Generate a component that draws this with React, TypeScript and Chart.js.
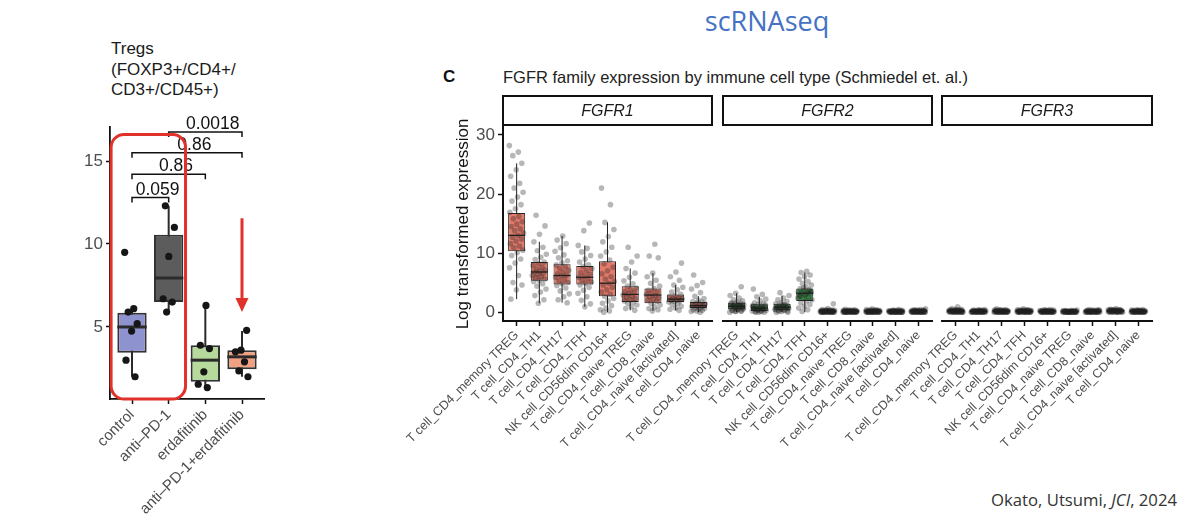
import React, { useEffect, useRef } from 'react';
import { Chart, registerables } from 'chart.js';

Chart.register(...registerables);

const SANS = '"Liberation Sans", Arial, Helvetica, sans-serif';
const SLIDE = '"Open Sans", Lato, sans-serif';

// ---------- Treg flow cytometry panel ----------
const tregGroups = ['control', 'anti–PD-1', 'erdafitinib', 'anti–PD-1+erdafitinib'];
const tregColors = ['#8E92CF', '#5C5C5C', '#B5DA9C', '#F0A182'];
const tregLower = [2.0, 5.9, 1.4, 2.0];
const tregQ1 = [3.45, 6.5, 1.7, 2.45];
const tregMedian = [5.0, 7.95, 3.0, 3.2];
const tregQ3 = [5.85, 10.55, 3.9, 3.6];
const tregUpper = [6.1, 12.3, 6.3, 4.75];
const tregPoints = [
  [9.5, 6.1, 5.9, 5.2, 4.75, 3.0, 2.0],
  [12.3, 11.0, 9.25, 6.7, 6.5, 5.9],
  [6.3, 3.9, 3.7, 2.3, 1.55, 1.35],
  [4.8, 3.6, 3.5, 2.9, 2.35, 2.0],
];
const tregTicks = [5, 10, 15];
// pairwise comparisons: group indices, bracket height, p value
const compA = [0, 0, 0, 1];
const compB = [1, 2, 3, 3];
const compHeight = [12.8, 14.2, 15.5, 16.75];
const compP = ['0.059', '0.86', '0.86', '0.0018'];

// ---------- scRNAseq panel ----------
const cellTypes = [
  'T cell_CD4_memory TREG',
  'T cell_CD4_TH1',
  'T cell_CD4_TH17',
  'T cell_CD4_TFH',
  'NK cell_CD56dim CD16+',
  'T cell_CD4_naive TREG',
  'T cell_CD8_naive',
  'T cell_CD4_naive [activated]',
  'T cell_CD4_naive',
];
const genes = ['FGFR1', 'FGFR2', 'FGFR3'];
const geneColors = ['#E47B6B', '#46AD57', '#6F9CEB'];
const exprTicks = [0, 10, 20, 30];

const fgfr1Lower = [2.2, 1.5, 1.6, 0.9, 0.0, 0.3, 0.2, 0.3, 0.0];
const fgfr1Q1 = [10.3, 5.3, 4.7, 4.7, 2.7, 1.7, 1.5, 1.7, 0.7];
const fgfr1Median = [13.0, 6.8, 6.2, 5.9, 4.9, 3.0, 2.9, 2.2, 1.1];
const fgfr1Q3 = [16.8, 8.5, 8.1, 7.8, 8.6, 4.4, 4.0, 3.0, 1.7];
const fgfr1Upper = [25.2, 11.9, 12.9, 11.3, 15.2, 7.4, 6.6, 4.6, 2.7];
const fgfr1Points = [
  [28.2, 27.1, 26.5, 25.2, 24.1, 23.0, 21.8, 21.0, 20.3, 19.5, 18.8, 18.2, 17.5, 16.9, 16.2, 15.8, 15.3, 14.9, 14.5, 14.1, 13.8, 13.4, 13.0, 12.7, 12.4, 12.0, 11.6, 11.2, 10.9, 10.5, 10.1, 9.6, 9.0, 8.3, 7.5, 6.2, 5.0, 4.6, 3.8, 2.2],
  [16.4, 14.6, 13.2, 11.9, 11.0, 10.4, 9.8, 9.3, 8.9, 8.5, 8.2, 7.9, 7.6, 7.3, 7.1, 6.9, 6.8, 6.6, 6.4, 6.2, 6.0, 5.8, 5.6, 5.4, 5.2, 4.8, 4.4, 3.9, 3.4, 2.8, 2.1, 1.5],
  [12.9, 12.2, 11.6, 10.9, 10.3, 9.7, 9.2, 8.7, 8.3, 8.0, 7.7, 7.4, 7.1, 6.8, 6.5, 6.3, 6.1, 5.9, 5.6, 5.3, 5.0, 4.8, 4.5, 4.1, 3.6, 3.1, 2.6, 2.1, 1.6],
  [15.1, 13.8, 11.3, 10.8, 10.2, 9.6, 9.0, 8.5, 8.0, 7.7, 7.4, 7.0, 6.7, 6.4, 6.1, 5.9, 5.7, 5.4, 5.1, 4.9, 4.6, 4.2, 3.7, 3.2, 2.6, 2.0, 1.4, 0.9],
  [21.0, 18.2, 15.2, 14.0, 12.8, 11.9, 11.0, 10.2, 9.5, 8.8, 8.2, 7.6, 7.0, 6.5, 6.0, 5.6, 5.2, 4.9, 4.6, 4.2, 3.8, 3.4, 3.0, 2.7, 2.3, 1.9, 1.5, 1.1, 0.7, 0.4, 0.2, 0.0],
  [11.0, 9.5, 8.5, 7.4, 6.6, 5.9, 5.3, 4.8, 4.4, 4.1, 3.8, 3.5, 3.3, 3.1, 2.9, 2.7, 2.5, 2.3, 2.1, 1.9, 1.7, 1.5, 1.2, 0.9, 0.6, 0.3],
  [11.5, 9.5, 9.2, 6.6, 6.0, 5.4, 4.9, 4.4, 4.0, 3.7, 3.4, 3.2, 3.0, 2.8, 2.6, 2.4, 2.2, 2.0, 1.8, 1.5, 1.2, 0.9, 0.6, 0.4, 0.2],
  [8.3, 6.8, 6.0, 5.4, 4.6, 4.2, 3.8, 3.4, 3.0, 2.8, 2.6, 2.4, 2.3, 2.2, 2.1, 2.0, 1.9, 1.8, 1.7, 1.5, 1.3, 1.0, 0.7, 0.5, 0.3],
  [6.3, 5.0, 4.5, 3.9, 3.3, 2.7, 2.3, 2.0, 1.8, 1.7, 1.5, 1.4, 1.3, 1.2, 1.1, 1.0, 0.9, 0.8, 0.7, 0.6, 0.5, 0.4, 0.3, 0.2, 0.1, 0.0],
];

const fgfr2Lower = [0, 0, 0, 0, 0, 0, 0, 0, 0];
const fgfr2Q1 = [0.5, 0.2, 0.3, 1.9, 0.05, 0.05, 0.05, 0.05, 0.05];
const fgfr2Median = [1.0, 0.7, 0.85, 3.2, 0.15, 0.15, 0.15, 0.12, 0.15];
const fgfr2Q3 = [1.6, 1.35, 1.4, 4.0, 0.3, 0.3, 0.3, 0.28, 0.3];
const fgfr2Upper = [3.2, 2.6, 2.8, 6.7, 0.6, 0.55, 0.55, 0.5, 0.55];
const fgfr2Points = [
  [4.3, 3.2, 2.8, 2.4, 2.1, 1.9, 1.7, 1.6, 1.5, 1.4, 1.3, 1.2, 1.1, 1.0, 0.9, 0.8, 0.7, 0.6, 0.5, 0.4, 0.3, 0.2, 0.1, 0.0, 1.2, 1.0, 0.8, 0.6, 1.4, 1.1, 0.9, 0.7, 0.5, 0.3, 0.2, 0.1],
  [3.9, 3.0, 2.6, 2.2, 1.9, 1.6, 1.4, 1.3, 1.1, 1.0, 0.9, 0.8, 0.7, 0.6, 0.5, 0.4, 0.3, 0.2, 0.1, 0.0, 0.0, 0.9, 0.7, 0.5, 1.2, 0.8, 0.6, 0.4, 0.3, 0.2, 0.1, 0.0],
  [3.3, 2.8, 2.4, 2.1, 1.8, 1.6, 1.4, 1.3, 1.2, 1.0, 0.9, 0.8, 0.7, 0.6, 0.5, 0.4, 0.3, 0.2, 0.1, 0.0, 1.1, 0.8, 0.6, 1.2, 0.9, 0.7, 0.5, 0.4, 0.3, 0.1, 0.0],
  [6.9, 6.7, 6.3, 6.0, 5.6, 5.2, 4.9, 4.6, 4.3, 4.0, 3.8, 3.6, 3.4, 3.3, 3.2, 3.1, 2.9, 2.7, 2.5, 2.3, 2.1, 1.9, 1.6, 1.3, 1.0, 0.7, 0.4, 0.1, 3.5, 3.0, 2.8, 3.7, 4.1, 2.4],
  [1.4, 0.6, 0.45, 0.4, 0.35, 0.3, 0.3, 0.25, 0.25, 0.2, 0.2, 0.2, 0.15, 0.15, 0.15, 0.1, 0.1, 0.1, 0.1, 0.05, 0.05, 0.05, 0.05, 0.0, 0.0, 0.0, 0.0, 0.0, 0.0, 0.0, 0.3, 0.25, 0.2, 0.2, 0.15, 0.15, 0.1, 0.1, 0.1, 0.05, 0.05, 0.0, 0.0, 0.0, 0.0],
  [0.5, 0.4, 0.35, 0.3, 0.3, 0.25, 0.25, 0.2, 0.2, 0.2, 0.15, 0.15, 0.15, 0.1, 0.1, 0.1, 0.1, 0.05, 0.05, 0.05, 0.0, 0.0, 0.0, 0.0, 0.0, 0.0, 0.0, 0.0, 0.3, 0.25, 0.2, 0.2, 0.15, 0.15, 0.1, 0.1, 0.1, 0.05, 0.05, 0.0, 0.0, 0.0, 0.0],
  [0.55, 0.45, 0.4, 0.35, 0.3, 0.3, 0.25, 0.25, 0.2, 0.2, 0.2, 0.15, 0.15, 0.15, 0.1, 0.1, 0.1, 0.05, 0.05, 0.05, 0.0, 0.0, 0.0, 0.0, 0.0, 0.0, 0.0, 0.0, 0.3, 0.25, 0.2, 0.2, 0.15, 0.15, 0.1, 0.1, 0.1, 0.05, 0.05, 0.0, 0.0, 0.0, 0.0],
  [0.45, 0.35, 0.3, 0.3, 0.25, 0.25, 0.2, 0.2, 0.15, 0.15, 0.15, 0.1, 0.1, 0.1, 0.1, 0.05, 0.05, 0.05, 0.0, 0.0, 0.0, 0.0, 0.0, 0.0, 0.0, 0.0, 0.0, 0.25, 0.2, 0.2, 0.15, 0.15, 0.1, 0.1, 0.1, 0.05, 0.05, 0.0, 0.0, 0.0, 0.0],
  [0.55, 0.45, 0.4, 0.35, 0.3, 0.3, 0.25, 0.25, 0.2, 0.2, 0.2, 0.15, 0.15, 0.15, 0.1, 0.1, 0.1, 0.05, 0.05, 0.05, 0.0, 0.0, 0.0, 0.0, 0.0, 0.0, 0.0, 0.0, 0.3, 0.25, 0.2, 0.2, 0.15, 0.15, 0.1, 0.1, 0.1, 0.05, 0.05, 0.0, 0.0, 0.0, 0.0],
];

const fgfr3Lower = [0, 0, 0, 0, 0, 0, 0, 0, 0];
const fgfr3Q1 = [0.08, 0.04, 0.06, 0.06, 0.04, 0.02, 0.04, 0.08, 0.04];
const fgfr3Median = [0.2, 0.12, 0.18, 0.18, 0.12, 0.08, 0.12, 0.22, 0.12];
const fgfr3Q3 = [0.35, 0.28, 0.32, 0.32, 0.28, 0.22, 0.28, 0.38, 0.28];
const fgfr3Upper = [0.65, 0.5, 0.55, 0.55, 0.5, 0.4, 0.5, 0.65, 0.5];
const fgfr3Points = [
  [0.9, 0.6, 0.5, 0.45, 0.4, 0.35, 0.35, 0.3, 0.3, 0.25, 0.25, 0.2, 0.2, 0.2, 0.15, 0.15, 0.15, 0.1, 0.1, 0.1, 0.05, 0.05, 0.05, 0.0, 0.0, 0.0, 0.0, 0.0, 0.0, 0.35, 0.3, 0.25, 0.25, 0.2, 0.2, 0.15, 0.15, 0.1, 0.1, 0.05, 0.0, 0.0, 0.0],
  [0.45, 0.4, 0.35, 0.3, 0.3, 0.25, 0.25, 0.2, 0.2, 0.15, 0.15, 0.15, 0.1, 0.1, 0.1, 0.1, 0.05, 0.05, 0.05, 0.0, 0.0, 0.0, 0.0, 0.0, 0.0, 0.0, 0.0, 0.3, 0.25, 0.2, 0.2, 0.15, 0.15, 0.1, 0.1, 0.1, 0.05, 0.05, 0.0, 0.0, 0.0],
  [0.55, 0.45, 0.4, 0.35, 0.3, 0.3, 0.25, 0.25, 0.2, 0.2, 0.2, 0.15, 0.15, 0.15, 0.1, 0.1, 0.1, 0.05, 0.05, 0.05, 0.0, 0.0, 0.0, 0.0, 0.0, 0.0, 0.0, 0.0, 0.35, 0.3, 0.25, 0.25, 0.2, 0.2, 0.15, 0.15, 0.1, 0.1, 0.05, 0.0, 0.0, 0.0],
  [0.55, 0.45, 0.4, 0.35, 0.3, 0.3, 0.25, 0.25, 0.2, 0.2, 0.2, 0.15, 0.15, 0.15, 0.1, 0.1, 0.1, 0.05, 0.05, 0.05, 0.0, 0.0, 0.0, 0.0, 0.0, 0.0, 0.0, 0.0, 0.35, 0.3, 0.25, 0.25, 0.2, 0.2, 0.15, 0.15, 0.1, 0.1, 0.05, 0.0, 0.0, 0.0],
  [0.45, 0.4, 0.35, 0.3, 0.3, 0.25, 0.25, 0.2, 0.2, 0.15, 0.15, 0.15, 0.1, 0.1, 0.1, 0.1, 0.05, 0.05, 0.05, 0.0, 0.0, 0.0, 0.0, 0.0, 0.0, 0.0, 0.0, 0.3, 0.25, 0.2, 0.2, 0.15, 0.15, 0.1, 0.1, 0.1, 0.05, 0.05, 0.0, 0.0, 0.0],
  [0.35, 0.3, 0.25, 0.25, 0.2, 0.2, 0.15, 0.15, 0.1, 0.1, 0.1, 0.1, 0.05, 0.05, 0.05, 0.05, 0.0, 0.0, 0.0, 0.0, 0.0, 0.0, 0.0, 0.0, 0.0, 0.0, 0.25, 0.2, 0.2, 0.15, 0.15, 0.1, 0.1, 0.05, 0.05, 0.0, 0.0, 0.0, 0.0],
  [0.45, 0.4, 0.35, 0.3, 0.3, 0.25, 0.25, 0.2, 0.2, 0.15, 0.15, 0.15, 0.1, 0.1, 0.1, 0.1, 0.05, 0.05, 0.05, 0.0, 0.0, 0.0, 0.0, 0.0, 0.0, 0.0, 0.0, 0.3, 0.25, 0.2, 0.2, 0.15, 0.15, 0.1, 0.1, 0.1, 0.05, 0.05, 0.0, 0.0, 0.0],
  [0.6, 0.5, 0.45, 0.4, 0.4, 0.35, 0.35, 0.3, 0.3, 0.25, 0.25, 0.25, 0.2, 0.2, 0.2, 0.15, 0.15, 0.1, 0.1, 0.1, 0.05, 0.05, 0.0, 0.0, 0.0, 0.0, 0.0, 0.4, 0.35, 0.3, 0.3, 0.25, 0.25, 0.2, 0.2, 0.15, 0.1, 0.1, 0.05, 0.0, 0.0],
  [0.45, 0.4, 0.35, 0.3, 0.3, 0.25, 0.25, 0.2, 0.2, 0.15, 0.15, 0.15, 0.1, 0.1, 0.1, 0.1, 0.05, 0.05, 0.05, 0.0, 0.0, 0.0, 0.0, 0.0, 0.0, 0.0, 0.0, 0.3, 0.25, 0.2, 0.2, 0.15, 0.15, 0.1, 0.1, 0.1, 0.05, 0.05, 0.0, 0.0, 0.0],
];

const facetStats = [
  { lower: fgfr1Lower, q1: fgfr1Q1, median: fgfr1Median, q3: fgfr1Q3, upper: fgfr1Upper, points: fgfr1Points },
  { lower: fgfr2Lower, q1: fgfr2Q1, median: fgfr2Median, q3: fgfr2Q3, upper: fgfr2Upper, points: fgfr2Points },
  { lower: fgfr3Lower, q1: fgfr3Q1, median: fgfr3Median, q3: fgfr3Q3, upper: fgfr3Upper, points: fgfr3Points },
];

// ---------- helpers ----------
// deterministic horizontal spread for overplotted points (golden-ratio sequence)
const spread = (group: number, i: number, half: number) => {
  const f = (i * 0.6180339887 + group * 0.2718) % 1;
  return (f - 0.5) * 2 * half;
};

// whiskers behind the boxes, median bars on top of them
function boxPlugin(stats: any, style: { whisker: number; median: number; color: string }) {
  return {
    id: 'boxWhiskers',
    beforeDatasetsDraw(chart: any) {
      const { ctx, scales } = chart;
      ctx.save();
      ctx.strokeStyle = style.color;
      ctx.lineWidth = style.whisker;
      stats.lower.forEach((lo: number, i: number) => {
        const px = scales.x.getPixelForValue(i + 1);
        ctx.beginPath();
        ctx.moveTo(px, scales.y.getPixelForValue(lo));
        ctx.lineTo(px, scales.y.getPixelForValue(stats.upper[i]));
        ctx.stroke();
      });
      ctx.restore();
    },
    afterDatasetDraw(chart: any, args: any) {
      if (args.index !== 0) return;
      const { ctx, scales } = chart;
      const meta = chart.getDatasetMeta(0);
      ctx.save();
      ctx.strokeStyle = style.color;
      ctx.lineWidth = style.median;
      meta.data.forEach((bar: any, i: number) => {
        const { x, width } = bar.getProps(['x', 'width'], true);
        const py = scales.y.getPixelForValue(stats.median[i]);
        ctx.beginPath();
        ctx.moveTo(x - width / 2, py);
        ctx.lineTo(x + width / 2, py);
        ctx.stroke();
      });
      ctx.restore();
    },
  };
}

const bracketPlugin = {
  id: 'pBrackets',
  afterDatasetsDraw(chart: any) {
    const { ctx, scales } = chart;
    const { x, y } = scales;
    ctx.save();
    ctx.strokeStyle = '#111';
    ctx.lineWidth = 1.5;
    ctx.fillStyle = '#111';
    ctx.font = `17.5px ${SANS}`;
    ctx.textAlign = 'center';
    ctx.textBaseline = 'alphabetic';
    compP.forEach((p, k) => {
      const x1 = x.getPixelForValue(compA[k] + 1);
      const x2 = x.getPixelForValue(compB[k] + 1);
      const yb = y.getPixelForValue(compHeight[k]);
      const yd = y.getPixelForValue(compHeight[k] - 0.3);
      ctx.beginPath();
      ctx.moveTo(x1, yd);
      ctx.lineTo(x1, yb);
      ctx.lineTo(x2, yb);
      ctx.lineTo(x2, yd);
      ctx.stroke();
      const mid = x.getPixelForValue((compA[k] + compB[k]) / 2 + 1 + 0.2);
      ctx.fillText(p, mid, yb - 3);
    });
    ctx.restore();
  },
};

// red call-outs: frame around the first two groups, arrow over the combination group
const calloutPlugin = {
  id: 'callouts',
  afterDraw(chart: any) {
    const { ctx, scales } = chart;
    const { x, y } = scales;
    const red = '#E0312A';
    ctx.save();
    ctx.strokeStyle = red;
    ctx.lineWidth = 3;
    const l = x.getPixelForValue(0.43);
    const r = x.getPixelForValue(2.46);
    const t = y.getPixelForValue(16.6);
    const b = chart.chartArea.bottom;
    ctx.beginPath();
    ctx.roundRect(l, t, r - l, b - t, 13);
    ctx.stroke();
    const ax = x.getPixelForValue(4);
    const tip = y.getPixelForValue(5.9);
    ctx.beginPath();
    ctx.moveTo(ax, y.getPixelForValue(11.55));
    ctx.lineTo(ax, tip - 12);
    ctx.stroke();
    ctx.fillStyle = red;
    ctx.beginPath();
    ctx.moveTo(ax - 6.5, tip - 14);
    ctx.lineTo(ax + 6.5, tip - 14);
    ctx.lineTo(ax, tip);
    ctx.closePath();
    ctx.fill();
    ctx.restore();
  },
};

function stripPlugin(label: string) {
  return {
    id: 'facetStrip',
    afterDraw(chart: any) {
      const { ctx, chartArea: a } = chart;
      const top = a.top - 31;
      const h = 29;
      ctx.save();
      ctx.fillStyle = '#fff';
      ctx.fillRect(a.left, top, a.right - a.left, h);
      ctx.strokeStyle = '#111';
      ctx.lineWidth = 2;
      ctx.strokeRect(a.left, top, a.right - a.left, h);
      ctx.fillStyle = '#1a1a1a';
      ctx.font = `italic 16px ${SANS}`;
      ctx.textAlign = 'center';
      ctx.textBaseline = 'middle';
      ctx.fillText(label, (a.left + a.right) / 2, top + h / 2 + 1);
      ctx.restore();
    },
  };
}

const axisGrid = (len: number) => ({
  display: true,
  drawOnChartArea: false,
  drawTicks: true,
  tickLength: len,
  tickColor: '#111',
  tickWidth: 1.5,
  offset: false,
});

function tregConfig(): any {
  const pts: any[] = [];
  tregPoints.forEach((vals, g) =>
    vals.forEach((v, i) => pts.push({ x: g + 1 + spread(g, i, 0.2), y: v }))
  );
  return {
    type: 'scatter',
    data: {
      datasets: [
        {
          type: 'bar',
          data: tregGroups.map((_, i) => ({ x: i + 1, y: [tregQ1[i], tregQ3[i]] })),
          backgroundColor: tregColors,
          borderColor: '#333',
          borderWidth: 2,
          borderSkipped: false,
          barPercentage: 0.8,
          categoryPercentage: 1,
          order: 2,
        },
        {
          type: 'scatter',
          data: pts,
          pointRadius: 3.6,
          pointBackgroundColor: '#161616',
          pointBorderWidth: 0,
          order: 1,
        },
      ],
    },
    options: {
      responsive: false,
      animation: false,
      layout: { padding: { left: 80, right: 36, top: 127, bottom: 7 } },
      plugins: { legend: { display: false }, tooltip: { enabled: false } },
      scales: {
        x: {
          type: 'linear',
          min: 0.4,
          max: 4.6,
          offset: false,
          afterBuildTicks: (s: any) => { s.ticks = tregGroups.map((_, i) => ({ value: i + 1 })); },
          afterFit: (s: any) => { s.height = 125; },
          grid: axisGrid(5),
          border: { display: true, color: '#111', width: 1.8 },
          ticks: {
            autoSkip: false,
            minRotation: 45,
            maxRotation: 45,
            padding: 2,
            color: '#4d4d4d',
            font: { family: SANS, size: 15 },
            callback: (v: number) => tregGroups[Math.round(v) - 1] ?? '',
          },
        },
        y: {
          min: 0.66,
          max: 17.05,
          afterBuildTicks: (s: any) => { s.ticks = tregTicks.map((value) => ({ value })); },
          afterFit: (s: any) => { s.width = 30; },
          grid: axisGrid(4),
          border: { display: true, color: '#111', width: 1.8 },
          ticks: { padding: 3, color: '#4d4d4d', font: { family: SANS, size: 17 } },
        },
      },
    },
    plugins: [
      boxPlugin({ lower: tregLower, upper: tregUpper, median: tregMedian }, { whisker: 2, median: 3, color: '#2b2b2b' }),
      bracketPlugin,
      calloutPlugin,
    ],
  };
}

// facet canvases all start at x = 300 and are 900 wide; padding places each panel
const facetPadLeft = [149, 423, 642];
const facetPadRight = [488, 268, 48];

function facetConfig(gi: number): any {
  const s = facetStats[gi];
  const pts: any[] = [];
  s.points.forEach((vals, ci) =>
    vals.forEach((v, j) => pts.push({ x: ci + 1 + spread(ci + gi * 3, j, 0.32), y: v }))
  );
  const withAxis = gi === 0;
  return {
    type: 'scatter',
    data: {
      datasets: [
        {
          type: 'bar',
          data: cellTypes.map((_, i) => ({ x: i + 1, y: [s.q1[i], s.q3[i]] })),
          backgroundColor: geneColors[gi],
          borderColor: '#262626',
          borderWidth: 1,
          borderSkipped: false,
          barPercentage: 0.75,
          categoryPercentage: 1,
          order: 2,
        },
        {
          type: 'scatter',
          data: pts,
          pointRadius: 2.8,
          pointBackgroundColor: 'rgba(30,30,30,0.32)',
          pointBorderWidth: 0,
          order: 1,
        },
      ],
    },
    options: {
      responsive: false,
      animation: false,
      layout: { padding: { left: facetPadLeft[gi], right: facetPadRight[gi], top: 127, bottom: 60 } },
      plugins: { legend: { display: false }, tooltip: { enabled: false } },
      scales: {
        x: {
          type: 'linear',
          min: 0.4,
          max: 9.6,
          offset: false,
          afterBuildTicks: (sc: any) => { sc.ticks = cellTypes.map((_, i) => ({ value: i + 1 })); },
          afterFit: (sc: any) => { sc.height = 150; },
          grid: axisGrid(5),
          border: { display: true, color: '#111', width: 2 },
          ticks: {
            autoSkip: false,
            minRotation: 45,
            maxRotation: 45,
            padding: 2,
            color: '#4d4d4d',
            font: { family: SANS, size: 12.5 },
            callback: (v: number) => cellTypes[Math.round(v) - 1] ?? '',
          },
        },
        y: {
          display: withAxis,
          min: -1.5,
          max: 31.35,
          afterBuildTicks: (sc: any) => { sc.ticks = exprTicks.map((value) => ({ value })); },
          afterFit: (sc: any) => { sc.width = withAxis ? 54 : 0; },
          grid: axisGrid(5),
          border: { display: true, color: '#111', width: 2 },
          ticks: { padding: 3, color: '#4d4d4d', font: { family: SANS, size: 17 } },
          title: {
            display: true,
            text: 'Log transformed expression',
            color: '#111',
            font: { family: SANS, size: 17 },
            padding: { top: 4, bottom: 0 },
          },
        },
      },
    },
    plugins: [
      boxPlugin(s, { whisker: 1, median: 1.3, color: '#222' }),
      stripPlugin(genes[gi]),
    ],
  };
}

export default function App() {
  const tregRef = useRef<HTMLCanvasElement>(null);
  const f1Ref = useRef<HTMLCanvasElement>(null);
  const f2Ref = useRef<HTMLCanvasElement>(null);
  const f3Ref = useRef<HTMLCanvasElement>(null);

  useEffect(() => {
    const charts: Chart[] = [];
    charts.push(new Chart(tregRef.current as HTMLCanvasElement, tregConfig()));
    [f1Ref, f2Ref, f3Ref].forEach((r, gi) => {
      charts.push(new Chart(r.current as HTMLCanvasElement, facetConfig(gi)));
    });
    return () => charts.forEach((c) => c.destroy());
  }, []);

  const abs = (extra: React.CSSProperties): React.CSSProperties => ({ position: 'absolute', margin: 0, whiteSpace: 'nowrap', ...extra });

  return (
    <div style={{ position: 'fixed', left: 0, top: 0, width: 1200, height: 531, background: '#fff', overflow: 'hidden' }}>
      <div style={abs({ left: 767, top: 3, transform: 'translateX(-50%)', fontFamily: SLIDE, fontSize: 27, lineHeight: '36px', color: '#4472C4' })}>
        scRNAseq
      </div>
      <div style={abs({ left: 111, top: 39, fontFamily: SANS, fontSize: 17, lineHeight: '20.5px', color: '#1a1a1a' })}>
        Tregs<br />(FOXP3+/CD4+/<br />CD3+/CD45+)
      </div>
      <div style={abs({ left: 443, top: 67, fontFamily: SANS, fontSize: 17, fontWeight: 'bold', lineHeight: '20px', color: '#111' })}>
        C
      </div>
      <div style={abs({ left: 503, top: 67, fontFamily: SANS, fontSize: 16.5, lineHeight: '20px', color: '#222' })}>
        FGFR family expression by immune cell type (Schmiedel et. al.)
      </div>
      <div style={abs({ right: 23, top: 488, fontFamily: SLIDE, fontSize: 16.7, lineHeight: '24px', color: '#333' })}>
        Okato, Utsumi, <i>JCI</i>, 2024
      </div>
      <canvas ref={tregRef} width={300} height={531} style={{ position: 'absolute', left: 0, top: 0 }} />
      <canvas ref={f1Ref} width={900} height={531} style={{ position: 'absolute', left: 300, top: 0 }} />
      <canvas ref={f2Ref} width={900} height={531} style={{ position: 'absolute', left: 300, top: 0 }} />
      <canvas ref={f3Ref} width={900} height={531} style={{ position: 'absolute', left: 300, top: 0 }} />
    </div>
  );
}
